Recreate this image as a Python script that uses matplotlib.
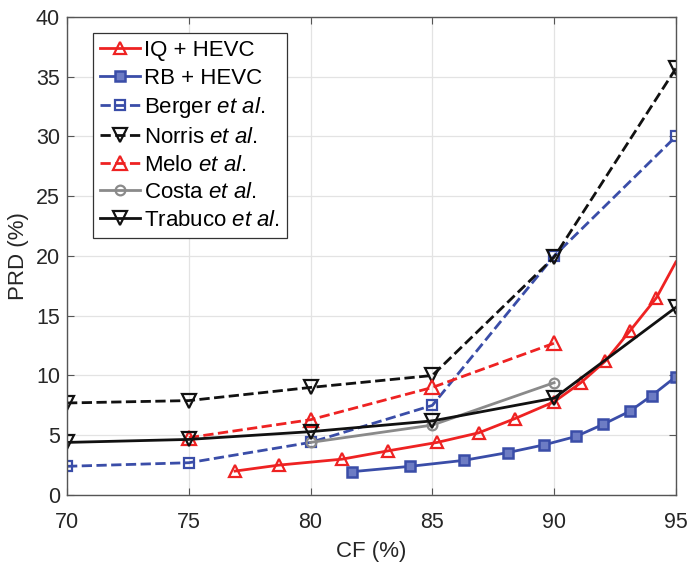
import matplotlib
matplotlib.use('Agg')
import matplotlib.pyplot as plt

plt.rcParams['font.family'] = ['Liberation Sans', 'DejaVu Sans']
plt.rcParams['mathtext.fontset'] = 'custom'
plt.rcParams['mathtext.it'] = 'Liberation Sans:italic'
plt.rcParams['mathtext.rm'] = 'Liberation Sans'

# IQ + HEVC
iq_cf = [76.9, 78.7, 81.3, 83.2, 85.2, 86.9, 88.4, 90.0, 91.1, 92.1, 93.1, 94.2, 95.0]
iq_prd = [2.0, 2.5, 3.0, 3.7, 4.4, 5.2, 6.4, 7.8, 9.4, 11.2, 13.7, 16.5, 19.5]

# RB + HEVC
rb_cf = [81.7, 84.1, 86.3, 88.1, 89.6, 90.9, 92.0, 93.1, 94.0, 95.0]
rb_prd = [1.95, 2.4, 2.9, 3.55, 4.2, 4.9, 5.9, 7.0, 8.3, 9.9]

# other methods at fixed CF values
cf_all = [70, 75, 80, 85, 90, 95]
berger_prd = [2.4, 2.7, 4.4, 7.5, 20.0, 30.0]
norris_prd = [7.7, 7.9, 9.0, 10.0, 19.9, 35.7]
melo_cf = [75, 80, 85, 90]
melo_prd = [4.8, 6.3, 9.0, 12.7]
costa_cf = [80, 85, 90]
costa_prd = [4.4, 5.85, 9.4]
trabuco_prd = [4.4, 4.65, 5.3, 6.2, 8.1, 15.7]

red = '#ee2222'
blue = '#3a4da8'
gray = '#8a8a8a'
black = '#111111'

fig = plt.figure(figsize=(6.88, 5.63), dpi=100)
ax = fig.add_axes([0.0974, 0.1208, 0.885, 0.849])

lw = 2.0
ax.plot(iq_cf, iq_prd, '-', color=red, lw=lw, marker='^', ms=9, mfc='none',
        mew=1.6, markevery=list(range(len(iq_cf) - 1)), label='IQ + HEVC')
ax.plot(rb_cf, rb_prd, '-', color=blue, lw=lw, marker='s', ms=7, mfc='#6d7cc4',
        mew=1.8, label='RB + HEVC')
ax.plot(cf_all, berger_prd, '--', color=blue, lw=lw, marker='s', ms=7, mfc='none',
        mew=1.6, label=r'Berger $\mathit{et\ al}$.')
ax.plot(cf_all, norris_prd, '--', color=black, lw=lw, marker='v', ms=10, mfc='none',
        mew=1.6, label=r'Norris $\mathit{et\ al}$.')
ax.plot(melo_cf, melo_prd, '--', color=red, lw=lw, marker='^', ms=10, mfc='none',
        mew=1.6, label=r'Melo $\mathit{et\ al}$.')
ax.plot(costa_cf, costa_prd, '-', color=gray, lw=lw, marker='o', ms=7, mfc='none',
        mew=1.6, label=r'Costa $\mathit{et\ al}$.')
ax.plot(cf_all, trabuco_prd, '-', color=black, lw=lw, marker='v', ms=10, mfc='none',
        mew=1.6, label=r'Trabuco $\mathit{et\ al}$.')

ax.set_xlim(70, 95)
ax.set_ylim(0, 40)
ax.set_xticks(range(70, 96, 5))
ax.set_yticks(range(0, 41, 5))
ax.grid(True, color='#e3e3e3', lw=0.9)
ax.set_axisbelow(True)
ax.tick_params(direction='in', top=True, right=True, labelsize=15.5,
               color='#555555', labelcolor='#262626', length=5)
ax.tick_params(axis='x', pad=12)
ax.tick_params(axis='y', pad=5)
for s in ax.spines.values():
    s.set_color('#555555')
    s.set_linewidth(1.0)

ax.set_xlabel('CF (%)', fontsize=16, color='#262626', labelpad=6)
ax.set_ylabel('PRD (%)', fontsize=16, color='#262626', labelpad=5)

leg = ax.legend(loc='upper left', bbox_to_anchor=(0.043, 0.966), fontsize=16,
                fancybox=False, framealpha=1, edgecolor='#333333',
                handlelength=1.8, handletextpad=0.2, labelspacing=0.3,
                borderpad=0.3, borderaxespad=0)
leg.get_frame().set_linewidth(0.9)

fig.savefig('out.png', dpi=100)
